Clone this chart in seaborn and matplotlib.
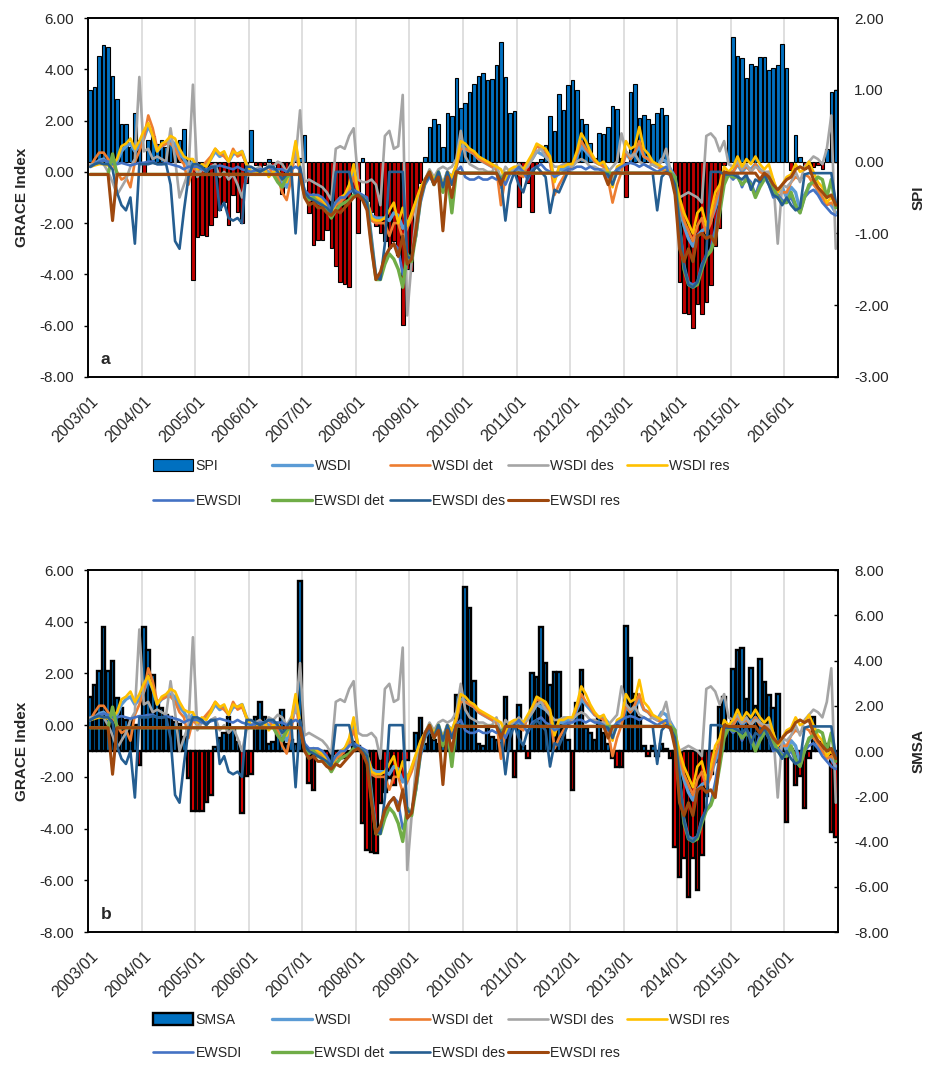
import numpy as np
import pandas as pd
import matplotlib
matplotlib.use("Agg")
import matplotlib.pyplot as plt
from matplotlib.lines import Line2D
from matplotlib.patches import Patch
from matplotlib.ticker import FormatStrFormatter
from matplotlib.transforms import ScaledTranslation
import seaborn as sns

# ---------------- data (monthly, 2003/01 - 2016/12) ----------------
year_labels = [f"{y}/01" for y in range(2003, 2017)]

spi = [
    1.0, 1.04, 1.47, 1.63, 1.59, 1.19, 0.87, 0.52, 0.52, 0.2, 0.68, 0.3,
    -0.16, 0.3, 0.35, 0.25, 0.3, 0.2, 0.3, 0.25, 0.3, 0.45, 0.05, -1.65,
    -1.05, -1.02, -1.03, -0.88, -0.77, -0.67, -0.56, -0.88, -0.47, -0.7, -0.86, -0.3,
    0.44, -0.05, -0.1, -0.05, 0.03, -0.05, -0.1, -0.45, -0.2, -0.05, 0.02, 0.05,
    0.37, -0.72, -1.16, -1.09, -1.09, -0.95, -1.2, -1.46, -1.68, -1.71, -1.75, -0.4,
    -1.0, 0.05, -0.55, -0.7, -0.9, -1.0, -1.1, -1.2, -1.1, -1.3, -2.27, -1.5,
    -1.52, -0.55, -0.3, 0.07, 0.48, 0.59, 0.52, 0.21, 0.67, 0.64, 1.16, 0.75,
    0.81, 0.97, 1.08, 1.19, 1.23, 1.14, 1.15, 1.34, 1.66, 1.18, 0.67, 0.71,
    -0.63, -0.1, -0.3, -0.7, -0.05, 0.03, 0.23, 0.63, 0.42, 0.94, 0.72, 1.06,
    1.14, 1.0, 0.6, 0.53, 0.26, 0.05, 0.4, 0.38, 0.48, 0.77, 0.73, 0.05,
    -0.49, 0.97, 1.08, 0.61, 0.65, 0.59, 0.53, 0.67, 0.75, 0.65, 0.0, -0.3,
    -1.67, -2.11, -2.12, -2.32, -1.99, -2.12, -1.95, -1.72, -1.18, -0.93, -0.05, 0.51,
    1.73, 1.47, 1.44, 1.17, 1.36, 1.33, 1.46, 1.46, 1.27, 1.3, 1.34, 1.64,
    1.3, -0.12, 0.37, 0.07, -0.1, -0.05, -0.08, -0.05, -0.1, 0.18, 0.97, 1.0,
]

smsa = [
    2.4, 2.92, 3.54, 5.5, 3.54, 4.0, 2.33, 1.89, 1.37, 1.4, 1.15, -0.6,
    5.46, 4.47, 3.36, 2.2, 1.9, 1.6, 1.5, 1.3, 1.2, 0.6, -1.2, -2.65,
    -2.65, -2.65, -2.25, -1.95, 0.19, 0.56, 0.8, 1.5, 1.0, 0.4, -2.76, -1.1,
    -1.03, 1.5, 2.18, 1.5, 0.3, 0.4, 0.86, 1.82, 0.3, 0.5, 0.3, 7.52,
    0.1, -1.43, -1.72, -0.2, -0.3, -0.2, -0.4, -0.2, -0.3, -0.3, -0.1, 0.4,
    0.2, -3.2, -4.38, -4.45, -4.53, -2.3, -1.8, -1.2, -1.5, -1.0, -1.3, -0.4,
    0.0, 0.8, 1.45, 0.3, 1.0, 0.5, 0.3, 0.2, 0.4, 0.3, 2.48, 2.4,
    7.27, 6.31, 3.1, 0.3, 0.2, 1.0, 0.6, 0.5, 0.4, 2.4, 1.0, -1.13,
    2.03, 0.2, -0.32, 3.43, 3.28, 5.5, 3.88, 2.92, 3.5, 3.5, 1.2, 0.5,
    -1.73, 2.1, 3.59, 1.0, 0.8, 0.5, 1.5, 0.8, 0.3, -0.3, -0.69, -0.69,
    5.53, 4.1, 2.5, 1.5, 0.2, -0.2, 0.2, -0.2, 0.3, 0.1, -0.3, -4.23,
    -5.56, -4.75, -6.45, -4.75, -6.16, -4.6, -2.0, -1.0, -0.5, 1.96, 2.4, 1.0,
    3.63, 4.47, 4.54, 2.3, 3.69, 2.0, 4.06, 3.07, 2.48, 1.89, 2.53, 0.3,
    -3.13, 0.1, -1.5, -1.1, -2.5, -0.3, 1.5, 0.4, 0.3, 0.3, -3.6, -3.8,
]

wsdi = [
    0.2, 0.3, 0.45, 0.5, 0.35, 0.3, 0.4, 0.8, 1.0, 1.1, 0.8, 1.0,
    1.3, 1.8, 1.4, 0.8, 1.0, 1.1, 1.2, 1.1, 0.7, 0.5, 0.2, 0.4,
    0.0, 0.2, 0.3, 0.5, 0.8, 0.6, 0.7, 0.4, 0.7, 0.7, 0.8, 0.3,
    0.0, -0.1, 0.0, 0.1, 0.0, -0.1, 0.0, -0.4, -0.6, 0.0, 1.0, 0.0,
    -0.8, -1.0, -0.9, -1.0, -1.1, -1.3, -1.6, -1.2, -1.1, -0.9, -0.7, 0.0,
    -0.8, -1.0, -1.2, -1.7, -1.8, -1.8, -1.8, -1.9, -1.6, -1.7, -2.2, -2.0,
    -1.7, -1.2, -0.7, -0.3, 0.0, -0.4, 0.0, -0.5, 0.0, -0.2, 0.2, 1.0,
    0.9, 0.8, 0.7, 0.5, 0.4, 0.3, 0.2, 0.1, -0.6, -0.2, 0.0, 0.1,
    0.1, 0.0, 0.3, 0.5, 0.8, 0.7, 0.6, 0.4, -0.3, 0.1, 0.1, 0.2,
    0.2, 0.6, 1.0, 0.8, 0.6, 0.4, 0.3, 0.3, 0.1, -0.4, 0.0, 0.2,
    0.7, 0.5, 0.7, 1.0, 0.6, 0.5, 0.3, 0.2, 0.5, 0.4, 0.1, -0.2,
    -1.4, -2.1, -2.6, -2.9, -2.5, -2.3, -2.2, -1.9, -1.4, -0.9, -0.2, 0.0,
    0.0, 0.3, 0.0, 0.2, 0.1, 0.3, 0.1, -0.1, -0.1, -0.4, -0.8, -0.6,
    -1.0, -0.6, -0.8, -1.5, -0.9, -0.6, -0.3, -0.8, -1.0, -1.2, -1.3, -1.6,
]

wsdi_det = [
    0.2, 0.5, 0.75, 0.75, 0.5, 0.3, 0.0, -0.3, -0.2, -0.6, 0.4, 0.8,
    1.3, 2.2, 1.7, 0.9, 1.0, 1.1, 1.1, 0.9, 0.5, 0.3, -0.5, 0.2,
    0.0, 0.2, 0.4, 0.6, 0.9, 0.7, 0.6, 0.4, 0.9, 0.6, 0.7, 0.3,
    0.0, -0.1, 0.1, 0.0, 0.2, -0.1, -0.2, -0.8, -1.1, -0.3, 1.0, -0.2,
    -0.8, -1.1, -1.0, -1.1, -1.2, -1.4, -1.8, -1.3, -1.2, -1.0, -0.8, -0.2,
    -0.8, -1.0, -1.3, -1.9, -2.0, -2.0, -2.0, -2.5, -2.0, -2.0, -2.6, -2.2,
    -1.8, -1.2, -0.7, -0.3, 0.0, -0.4, -0.1, -0.6, 0.0, -0.3, 0.2, 0.9,
    0.9, 0.8, 0.7, 0.5, 0.4, 0.3, 0.2, 0.1, -1.3, -0.2, 0.0, 0.1,
    -0.1, -0.2, 0.3, 0.6, 1.0, 0.9, 0.8, 0.4, -0.9, -0.5, -0.2, 0.0,
    0.2, 0.7, 1.2, 0.9, 0.7, 0.4, 0.3, 0.2, -0.3, -1.2, -0.5, 0.0,
    0.8, 0.5, 0.8, 1.2, 0.6, 0.5, 0.3, 0.2, 0.1, 0.0, -0.1, -0.4,
    -1.2, -1.9, -2.3, -2.7, -2.1, -1.8, -2.4, -2.0, -1.2, -0.6, 0.0, -0.1,
    0.0, 0.3, 0.1, 0.2, 0.0, 0.3, 0.0, -0.1, 0.0, -0.8, -1.0, -0.8,
    -0.8, -0.4, -0.2, -0.3, -0.1, -0.2, -0.5, -0.7, -1.0, -1.3, -1.2, -1.4,
]

wsdi_des = [
    0.3, 0.3, 0.4, 0.3, 0.0, -0.4, -0.9, -0.6, -0.3, 0.2, 0.5, 3.7,
    0.8, 0.9, 0.5, 0.6, 0.5, 0.4, 1.7, 0.5, -1.0, -0.5, 0.0, 3.4,
    -0.2, 0.1, 0.0, 0.2, 0.3, -0.2, 0.0, -0.3, -0.1, -0.5, -1.0, -0.2,
    0.0, 0.1, 0.2, 0.0, 0.3, 0.2, 0.4, 0.3, 0.0, 0.3, 0.5, 2.4,
    -0.4, -0.3, -0.4, -0.5, -0.6, -0.8, -1.1, 0.9, 1.0, 0.9, 1.4, 1.7,
    -0.3, -0.4, -0.4, -0.3, -0.5, -1.3, 1.4, 1.6, 0.9, 1.0, 3.0, -5.6,
    -3.5, -1.5, -0.7, -0.3, 0.1, -0.2, 0.1, 0.2, 0.1, 0.2, 0.5, 1.6,
    0.6, 0.3, 0.2, 0.1, 0.1, 0.0, 0.0, 0.3, -0.3, 0.2, 0.0, 0.1,
    0.3, 0.1, 0.2, 0.5, 0.8, 0.9, 0.6, 0.4, 0.2, 0.2, 0.3, 0.3,
    0.2, 0.4, 0.5, 0.4, 0.2, 0.2, 0.1, 0.1, 0.0, 0.2, 0.4, 1.5,
    0.8, 0.6, 0.7, 0.4, 0.3, 0.2, 0.3, 0.2, 0.4, 0.9, 0.0, -0.8,
    -1.0, -0.9, -0.8, -0.9, -1.0, -1.2, 1.4, 1.5, 1.3, 0.8, 1.2, 0.3,
    0.2, 0.4, 0.1, 0.3, 0.0, 0.2, 0.1, 0.0, 0.0, -0.3, -2.8, -0.5,
    -0.6, -0.4, 0.0, -0.4, 0.2, 0.4, 0.6, 0.5, 0.3, 0.9, 2.2, -3.0,
]

wsdi_res = [
    0.2, 0.25, 0.3, 0.3, 0.25, 0.3, 0.5, 1.0, 1.1, 1.3, 0.9, 1.2,
    1.6, 1.9, 1.4, 0.8, 1.1, 1.2, 1.4, 1.3, 0.9, 0.6, 0.5, 0.5,
    0.1, 0.3, 0.2, 0.5, 0.9, 0.7, 0.8, 0.4, 0.8, 0.7, 0.8, 0.3,
    0.0, -0.1, 0.0, 0.1, -0.2, 0.0, 0.1, -0.3, -0.4, 0.2, 1.2, 0.1,
    -0.9, -1.0, -0.9, -1.0, -1.1, -1.3, -1.7, -1.2, -1.0, -0.9, -0.5, 0.3,
    -0.8, -1.0, -1.1, -1.8, -1.9, -1.9, -1.8, -1.5, -1.2, -2.0, -1.4, -2.1,
    -1.6, -1.1, -0.6, -0.3, 0.0, -0.3, 0.0, -0.5, 0.0, -0.2, 0.3, 1.2,
    1.1, 0.9, 0.8, 0.6, 0.5, 0.4, 0.3, 0.2, 0.1, -0.3, 0.1, 0.2,
    0.2, 0.1, 0.4, 0.7, 1.1, 1.0, 0.9, 0.6, -0.4, 0.2, 0.2, 0.3,
    0.3, 0.8, 1.5, 1.2, 0.8, 0.5, 0.3, 0.4, 0.0, -0.6, 0.2, 0.3,
    1.2, 0.9, 1.0, 1.75, 0.9, 0.7, 0.4, 0.3, 0.2, 0.1, 0.0, -0.3,
    -1.0, -1.6, -2.0, -2.4, -1.6, -1.4, -2.1, -1.6, -0.8, -0.5, 0.2, 0.0,
    0.2, 0.6, 0.2, 0.5, 0.3, 0.6, 0.3, 0.1, 0.3, -0.3, -0.8, -0.5,
    -0.2, -0.1, 0.3, 0.0, 0.1, 0.4, 0.0, -0.4, -0.6, -1.2, -1.0, -1.3,
]

ewsdi = [
    0.2, 0.3, 0.4, 0.45, 0.4, 0.3, 0.3, 0.35, 0.3, 0.25, 0.3, 0.35,
    0.35, 0.4, 0.4, 0.3, 0.3, 0.35, 0.3, 0.25, 0.2, 0.1, 0.2, 0.2,
    0.2, 0.1, 0.1, 0.15, 0.2, 0.25, 0.2, 0.15, 0.1, 0.2, 0.1, 0.05,
    0.0, 0.05, 0.1, 0.1, 0.2, 0.1, 0.1, 0.1, 0.0, 0.1, 0.2, 0.1,
    -0.7, -0.9, -0.9, -0.9, -1.0, -1.2, -1.5, -1.2, -1.0, -1.0, -0.8, -0.7,
    -0.8, -0.9, -1.0, -2.5, -4.0, -4.1, -3.5, -3.0, -2.8, -3.0, -4.0, -3.6,
    -3.3, -2.5, -1.2, -0.5, -0.2, -0.4, 0.0, -0.7, -0.1, -0.5, 0.0, 0.2,
    -0.2, -0.3, -0.3, -0.2, -0.3, -0.3, -0.2, -0.3, -0.2, -0.5, -0.1, 0.0,
    0.2, 0.0, -0.3, 0.1, 0.2, 0.3, 0.1, 0.0, -0.2, -0.1, 0.0, 0.1,
    0.1, 0.2, 0.2, 0.1, 0.2, 0.1, 0.1, 0.0, -0.2, -0.1, 0.1, 0.2,
    0.3, 0.35, 0.3, 0.2, 0.3, 0.2, 0.1, 0.0, 0.1, 0.2, -0.2, -0.6,
    -2.0, -3.6, -4.3, -4.4, -4.3, -3.6, -3.3, -3.0, -2.2, -1.2, -0.3, -0.1,
    -0.3, -0.1, -0.6, -0.2, -0.4, -0.9, -0.4, -0.2, -0.5, -1.0, -0.9, -1.1,
    -1.2, -1.0, -1.4, -1.6, -1.0, -0.8, -0.7, -0.9, -1.2, -1.4, -1.6, -1.7,
]

ewsdi_det = [
    -0.1, -0.1, -0.1, -0.1, -0.1, 0.7, -0.1, -0.1, -0.1, -0.1, -0.1, -0.1,
    -0.1, -0.1, -0.1, -0.1, -0.1, -0.1, -0.1, -0.1, -0.1, -0.1, -0.1, -0.1,
    -0.1, -0.1, -0.1, -0.1, -0.1, -0.1, -0.1, -0.1, -0.1, -0.1, -0.1, -0.1,
    -0.1, -0.1, -0.1, -0.1, -0.1, -0.1, -0.4, -0.6, -0.2, -0.1, -0.1, -0.1,
    -0.9, -1.1, -1.0, -1.2, -1.3, -1.5, -1.8, -1.5, -1.3, -1.2, -1.1, -0.9,
    -0.9, -1.0, -1.2, -2.8, -4.2, -4.2, -3.6, -3.2, -3.4, -3.8, -4.5, -3.2,
    -3.5, -2.4, -1.0, -0.4, 0.0, -0.5, 0.0, -0.8, -0.1, -1.6, 0.0, -0.05,
    -0.05, -0.05, -0.05, -0.05, -0.05, -0.05, -0.05, -0.05, -0.3, -0.05, -0.05, -0.05,
    -0.05, -0.05, -0.05, -0.05, -0.05, -0.05, -0.05, -0.05, -0.05, -0.05, -0.05, -0.05,
    -0.05, -0.05, -0.05, -0.05, -0.05, -0.05, -0.05, -0.05, -0.05, -0.05, -0.05, -0.05,
    -0.05, -0.05, -0.05, -0.05, -0.05, -0.05, -0.05, -0.05, -0.05, -0.05, -0.05, -0.2,
    -2.1, -3.8, -4.4, -4.5, -4.4, -3.8, -3.3, -3.1, -2.6, -1.6, -0.5, -0.1,
    -0.2, -0.2, -0.5, -0.3, -0.5, -1.0, -0.6, -0.3, -0.2, -0.6, -1.0, -1.2,
    -1.2, -0.8, -1.3, -1.6, -1.0, -0.5, -0.4, -0.2, -0.3, -1.0, -0.3, -1.4,
]

ewsdi_des = [
    0.2, 0.3, 0.35, 0.3, 0.3, 0.1, -0.8, -1.3, -1.5, -1.0, -2.8, 0.3,
    0.3, 0.3, 0.35, 0.3, 0.3, 0.3, -0.5, -2.7, -3.0, -1.5, -0.2, 0.3,
    0.3, 0.2, 0.0, 0.2, 0.2, -1.5, -1.2, -1.8, -1.9, -1.8, -2.0, 0.2,
    0.2, 0.1, 0.0, 0.1, 0.2, 0.2, 0.0, -0.3, -0.1, 0.2, -2.4, 0.2,
    -0.8, -1.0, -1.1, -1.2, -1.3, -1.4, -1.6, 0.0, 0.0, 0.0, 0.0, -0.8,
    -0.9, -1.0, -1.2, -2.8, -4.1, -4.2, -2.8, 0.0, 0.0, 0.0, 0.0, -3.3,
    -3.4, -2.3, -1.0, -0.4, -0.1, -0.5, 0.0, -0.6, 0.0, -0.5, 0.0, -0.05,
    -0.05, -0.05, -0.05, -0.05, -0.05, -0.05, -0.05, -0.05, -0.3, -1.9, -0.5, 0.0,
    -0.5, -0.8, -0.2, 0.0, 0.2, 0.0, -0.2, -1.6, -0.7, -0.8, -0.4, 0.0,
    -0.05, -0.05, -0.05, -0.05, -0.05, -0.05, -0.05, -0.05, -0.1, -0.5, 0.0, -0.05,
    -0.05, -0.05, -0.05, -0.05, -0.05, -0.05, -0.05, -1.5, -0.2, 0.0, -0.1, -0.5,
    -2.0, -3.7, -4.4, -4.5, -4.3, -3.7, -3.2, 0.0, 0.0, 0.0, -0.1, -0.1,
    -0.1, -0.2, -0.3, -0.1, -0.7, -0.3, -0.4, -0.1, -0.5, -0.9, -1.0, -1.3,
    -1.0, -1.3, -1.5, -1.4, -0.1, -0.05, -0.05, -0.05, -0.05, -0.05, -0.05, -1.2,
]

ewsdi_res = [
    -0.1, -0.1, -0.1, -0.1, -0.1, -1.9, -0.1, -0.1, -0.1, -0.1, -0.1, -0.1,
    -0.1, -0.1, -0.1, -0.1, -0.1, -0.1, -0.1, -0.1, -0.1, -0.1, -0.1, -0.1,
    -0.1, -0.1, -0.1, -0.1, -0.1, -0.1, -0.1, -0.1, -0.1, -0.1, -0.1, -0.1,
    -0.1, -0.1, -0.1, -0.1, -0.1, -0.1, -0.1, -0.1, -0.1, -0.1, -0.1, -0.1,
    -1.0, -1.3, -1.2, -1.4, -1.4, -1.6, -1.7, -1.5, -1.6, -1.4, -1.2, -1.0,
    -0.9, -1.1, -1.5, -3.0, -4.2, -3.9, -3.3, -3.0, -2.8, -3.3, -2.5, -3.6,
    -3.4, -2.2, -1.0, -0.3, 0.0, -0.5, -0.2, -2.3, -0.2, -1.0, 0.0, -0.05,
    -0.05, -0.05, -0.05, -0.05, -0.05, -0.05, -0.05, -0.05, -0.5, -0.05, -0.05, -0.05,
    -0.05, -0.05, -0.05, -0.05, -0.05, -0.05, -0.05, -0.05, -0.05, -0.05, -0.05, -0.05,
    -0.05, -0.05, -0.05, -0.05, -0.05, -0.05, -0.05, -0.05, -0.5, -0.05, -0.05, -0.05,
    -0.05, -0.05, -0.05, -0.05, -0.05, -0.05, -0.05, -0.05, -0.05, -0.05, -0.1, -0.9,
    -3.0, -3.5, -3.0, -3.5, -2.5, -2.4, -2.6, -2.5, -2.8, -1.3, 0.0, -0.05,
    -0.05, -0.05, -0.05, -0.05, -0.05, -0.05, -0.3, -0.05, -0.2, -0.5, -0.7, -0.5,
    -0.3, -0.2, 0.1, 0.2, 0.1, 0.2, -0.3, -0.6, -0.8, -1.0, -0.9, -1.3,
]

series_names = ["WSDI", "WSDI det", "WSDI des", "WSDI res",
                "EWSDI", "EWSDI det", "EWSDI des", "EWSDI res"]
series_values = [wsdi, wsdi_det, wsdi_des, wsdi_res,
                 ewsdi, ewsdi_det, ewsdi_des, ewsdi_res]

# ---------------- style ----------------
sns.set_style("white")
plt.rcParams["font.family"] = ["Liberation Sans", "DejaVu Sans"]
plt.rcParams["font.size"] = 10.5

line_colors = {
    "WSDI": "#5B9BD5", "WSDI det": "#ED7D31", "WSDI des": "#A5A5A5", "WSDI res": "#FFC000",
    "EWSDI": "#4472C4", "EWSDI det": "#70AD47", "EWSDI des": "#255E91", "EWSDI res": "#9E480E",
}
line_widths = {
    "WSDI": 2.4, "WSDI det": 1.9, "WSDI des": 1.9, "WSDI res": 1.9,
    "EWSDI": 1.9, "EWSDI det": 2.4, "EWSDI des": 1.9, "EWSDI res": 2.2,
}

n = len(spi)
months = np.arange(n)
lines_df = pd.DataFrame({name: vals for name, vals in zip(series_names, series_values)})
lines_df["month"] = months
long_df = lines_df.melt(id_vars="month", var_name="series", value_name="value")

W, H = 928, 1076
fig = plt.figure(figsize=(W / 100, H / 100), dpi=100)


def fx(px):
    return px / W


def fy(py):
    return 1 - py / H


def make_panel(top_px, bottom_px, bars, bar_name, pos_c, neg_c, edge_lw,
               ylim2, yticks2, letter, row_y):
    ax = fig.add_axes([fx(88), fy(bottom_px), fx(838) - fx(88), fy(top_px) - fy(bottom_px)])
    ax2 = ax.twinx()

    bdf = pd.DataFrame({"month": months, "value": bars,
                        "sign": np.where(np.array(bars) >= 0, "pos", "neg")})
    sns.barplot(data=bdf, x="month", y="value", hue="sign",
                palette={"pos": pos_c, "neg": neg_c}, hue_order=["pos", "neg"],
                dodge=False, saturation=1, width=0.8, edgecolor="black",
                linewidth=edge_lw, errorbar=None, legend=False, ax=ax2)

    sns.lineplot(data=long_df, x="month", y="value", hue="series",
                 hue_order=series_names, palette=line_colors,
                 size="series", size_order=series_names, sizes=line_widths,
                 legend=False, ax=ax)

    # layering: lines above bars
    ax.set_zorder(ax2.get_zorder() + 1)
    ax.patch.set_visible(False)
    ax2.patch.set_visible(True)
    ax2.patch.set_facecolor("white")

    ax.set_xlim(-0.5, n - 0.5)
    ax.set_ylim(-8, 6)
    ax.set_yticks(np.arange(-8, 7, 2))
    ax.yaxis.set_major_formatter(FormatStrFormatter("%.2f"))
    ax2.set_ylim(*ylim2)
    ax2.set_yticks(yticks2)
    ax2.yaxis.set_major_formatter(FormatStrFormatter("%.2f"))

    ax.set_xticks(np.arange(len(year_labels)) * 12 - 0.5)
    ax.set_xticklabels(year_labels, rotation=45, ha="right", va="top",
                       rotation_mode="anchor")
    ax.tick_params(axis="x", length=0, pad=12, labelsize=11.5)
    shift = ScaledTranslation(1.5 / 72, 0, fig.dpi_scale_trans)
    for lab in ax.get_xticklabels():
        lab.set_transform(lab.get_transform() + shift)
    ax.tick_params(axis="y", direction="out", length=3, width=1, color="black",
                   pad=7, labelsize=11)
    ax2.tick_params(axis="y", direction="in", length=3, width=1, color="black",
                    pad=11.5, labelsize=11)

    # vertical year gridlines behind the bars
    ax2.xaxis.set_visible(True)
    ax2.tick_params(axis="x", which="both", bottom=False, top=False,
                    labelbottom=False, labeltop=False)
    ax2.grid(axis="x", color="#D9D9D9", linewidth=1.2)
    ax2.grid(axis="y", visible=False)
    ax2.set_axisbelow(True)
    ax.grid(False)

    ax.set_xlabel("")
    ax2.set_xlabel("")
    ax.set_ylabel("GRACE Index", fontweight="bold", fontsize=11)
    ax.yaxis.set_label_coords(-0.079, 0.5)
    ax2.set_ylabel(bar_name, fontweight="bold", fontsize=11)
    ax2.yaxis.set_label_coords(1.098, 0.5)

    for a in (ax, ax2):
        for side, sp in a.spines.items():
            sp.set_color("black")
            sp.set_linewidth(1.2)
            sp.set_visible(True)

    ax.text(0.017, 0.028, letter, transform=ax.transAxes, fontweight="bold",
            fontsize=12.5, ha="left", va="bottom")

    # legend (two rows, uniform columns)
    col_x = [153, 272, 390, 508, 627]
    bar_handle = Patch(facecolor=pos_c, edgecolor="black", linewidth=edge_lw)
    row1 = [(bar_handle, bar_name)] + [
        (Line2D([], [], color=line_colors[s], lw=line_widths[s]), s) for s in series_names[:4]]
    row2 = [(Line2D([], [], color=line_colors[s], lw=line_widths[s]), s) for s in series_names[4:]]
    for ry, row in zip(row_y, (row1, row2)):
        for cx, (h, lab) in zip(col_x, row):
            fig.legend([h], [lab], loc="center left",
                       bbox_to_anchor=(fx(cx), fy(ry)), frameon=False,
                       borderpad=0, borderaxespad=0, handlelength=2.85,
                       handleheight=0.85, handletextpad=0.15, fontsize=10.2)
    return ax, ax2


make_panel(18, 377, spi, "SPI", "#0070C0", "#C00000", 0.8,
           (-3, 2), np.arange(-3, 2.1, 1), "a", (466, 501))
make_panel(570, 932, smsa, "SMSA", "#0070C0", "#FF0000", 1.7,
           (-8, 8), np.arange(-8, 8.1, 2), "b", (1020, 1053))

fig.savefig("out.png", dpi=100)
